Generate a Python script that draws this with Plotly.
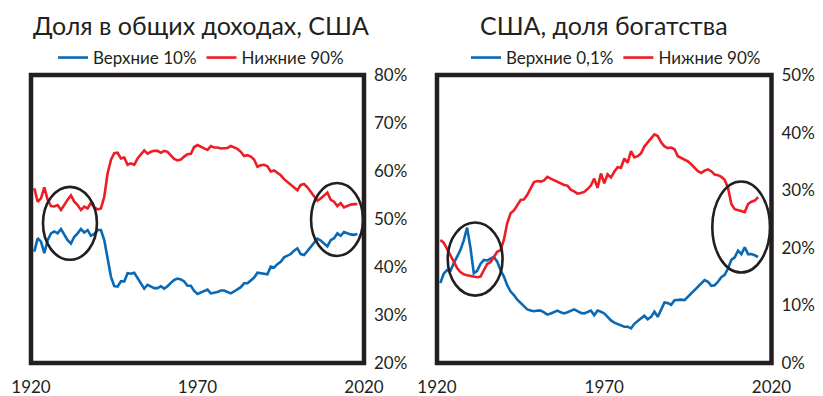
import plotly.graph_objects as go
from plotly.subplots import make_subplots

# ---- Income shares, USA (1921-2018) ----
income_years = list(range(1921, 2019))
income_top10 = [
    43.2, 46.0, 45.3, 42.9, 45.6, 47.0, 47.4, 47.0, 47.9, 46.7,
    45.6, 44.9, 46.3, 47.0, 47.9, 47.2, 47.7, 46.5, 46.9, 47.7,
    47.7, 45.6, 41.5, 38.0, 36.0, 35.9, 37.0, 37.0, 38.7, 38.6,
    38.8, 37.6, 36.4, 35.5, 36.3, 35.9, 35.6, 35.6, 36.0, 35.5,
    36.0, 36.7, 37.3, 37.6, 37.4, 37.0, 36.1, 36.1, 35.0, 34.4,
    34.7, 35.0, 35.3, 34.5, 34.6, 34.8, 35.1, 35.1, 34.8, 34.5,
    34.9, 35.3, 35.8, 36.6, 36.6, 37.2, 37.8, 38.8, 38.7, 38.6,
    38.5, 40.1, 39.9, 40.6, 41.1, 42.0, 42.3, 42.7, 43.4, 43.9,
    42.7, 42.5, 43.3, 44.2, 44.9, 45.9, 45.5, 44.8, 44.3, 45.6,
    46.0, 47.0, 46.5, 47.3, 47.0, 46.8, 46.7, 46.9,
]
income_bottom90 = [
    56.4, 53.6, 54.3, 56.6, 54.0, 52.7, 52.6, 52.9, 51.9, 53.1,
    54.0, 54.9, 53.6, 52.9, 51.9, 52.6, 52.2, 53.4, 52.4, 52.0,
    52.2, 54.6, 59.5, 62.3, 63.7, 63.8, 62.6, 62.8, 61.3, 61.6,
    61.3, 62.6, 63.5, 64.3, 63.6, 64.0, 64.2, 64.2, 63.8, 64.2,
    64.0, 63.2, 62.5, 62.2, 62.4, 63.0, 63.5, 63.6, 65.0, 65.4,
    65.0, 64.7, 64.4, 65.2, 64.9, 64.9, 64.7, 64.7, 64.8, 65.2,
    64.9, 64.6, 64.0, 63.1, 63.3, 63.0, 62.4, 60.9, 61.2, 61.3,
    61.0, 59.9, 60.1, 59.6, 59.1, 58.3, 57.7, 57.2, 56.7, 56.0,
    57.1, 57.3, 56.6, 55.6, 54.8, 53.8, 54.3, 55.0, 55.5, 54.0,
    53.6, 52.7, 53.3, 52.4, 52.7, 53.0, 53.1, 53.1,
]

# ---- Wealth shares, USA (1921-2016) ----
wealth_years = list(range(1921, 2017))
wealth_top01 = [
    13.9, 15.5, 16.1, 16.0, 17.3, 18.4, 19.6, 21.3, 23.5, 20.0,
    15.6, 16.0, 17.2, 17.9, 17.8, 18.1, 18.4, 17.6, 16.1, 15.0,
    13.5, 12.4, 11.8, 11.0, 10.4, 9.9, 9.3, 9.1, 9.0, 9.1,
    9.1, 8.8, 8.4, 8.6, 8.8, 9.1, 8.8, 8.6, 8.8, 9.0,
    9.3, 9.0, 8.7, 8.6, 8.8, 9.1, 8.3, 9.1, 8.9, 8.6,
    8.0, 7.4, 7.0, 6.8, 6.5, 6.3, 6.3, 6.0, 6.8, 7.2,
    7.75, 8.2, 7.6, 8.0, 8.9, 8.0, 9.2, 10.5, 10.4, 10.1,
    10.9, 11.0, 11.0, 10.9, 11.5, 12.1, 12.7, 13.3, 13.9, 14.4,
    14.1, 13.4, 13.5, 14.1, 14.9, 15.3, 16.4, 17.9, 18.35, 19.5,
    18.9, 20.1, 18.9, 18.9, 18.7, 18.4,
]
wealth_bottom90 = [
    21.35, 20.9, 19.8, 18.6, 17.5, 16.5, 15.8, 15.4, 15.25, 15.1,
    15.0, 14.9, 15.0, 16.0, 17.2, 17.5, 18.3, 19.3, 19.6, 21.4,
    24.3, 26.0, 26.5, 27.5, 28.3, 28.4, 29.2, 30.3, 31.4, 31.6,
    31.5, 31.7, 32.3, 32.0, 31.7, 31.4, 31.1, 30.9, 30.8, 30.1,
    29.8, 29.4, 29.5, 29.7, 30.2, 30.8, 32.0, 30.4, 32.9, 31.2,
    32.75, 32.2, 33.2, 34.0, 33.9, 35.5, 34.8, 36.8, 35.7, 35.9,
    36.4, 37.6, 38.3, 39.0, 39.7, 39.4, 38.3, 37.6, 37.3, 37.4,
    37.1, 35.9, 35.6, 35.4, 35.0, 34.5, 33.8, 33.3, 33.0, 33.4,
    33.6, 33.3, 32.7, 32.6, 32.3, 31.8, 30.4, 27.6, 26.7, 26.5,
    26.4, 26.2, 27.6, 28.0, 28.2, 28.8,
]

titles = ["Доля в общих доходах, США", "США, доля богатства"]
income_names = ["Верхние 10%", "Нижние 90%"]
wealth_names = ["Верхние 0,1%", "Нижние 90%"]
x_ticks = [1920, 1970, 2020]
income_y_ticks = [20, 30, 40, 50, 60, 70, 80]
wealth_y_ticks = [0, 10, 20, 30, 40, 50]

# highlighted periods: (x0, x1, y0, y1) in data units
income_marks = [(1923.6, 1939.8, 41.5, 56.7), (2004.1, 2019.7, 42.3, 57.5)]
wealth_marks = [(1923.2, 1939.6, 11.7, 24.4), (2002.3, 2019.55, 15.7, 31.5)]

BLUE = "#0a69b4"
RED = "#ee1d25"
INK = "#231f20"
FONT = "Lato"

W, H = 823, 396

fig = make_subplots(rows=1, cols=2)

fig.add_trace(go.Scatter(x=income_years, y=income_top10, name=income_names[0],
                         mode="lines", line=dict(color=BLUE, width=2.6),
                         legend="legend"), row=1, col=1)
fig.add_trace(go.Scatter(x=income_years, y=income_bottom90, name=income_names[1],
                         mode="lines", line=dict(color=RED, width=2.6),
                         legend="legend"), row=1, col=1)
fig.add_trace(go.Scatter(x=wealth_years, y=wealth_top01, name=wealth_names[0],
                         mode="lines", line=dict(color=BLUE, width=2.6),
                         legend="legend2"), row=1, col=2)
fig.add_trace(go.Scatter(x=wealth_years, y=wealth_bottom90, name=wealth_names[1],
                         mode="lines", line=dict(color=RED, width=2.6),
                         legend="legend2"), row=1, col=2)

def px_x(p):
    return p / W

def px_y(p):
    return 1 - p / H

y_dom = [px_y(363), px_y(75)]
x_dom_left = [px_x(31), px_x(364)]
x_dom_right = [px_x(437), px_x(771.5)]

axis_font = dict(family=FONT, size=17, color=INK)

fig.update_xaxes(range=[1920, 2020], tickvals=x_ticks, ticktext=[str(v) for v in x_ticks],
                 showgrid=False, zeroline=False, showline=False, ticks="",
                 tickfont=axis_font, ticklabelstandoff=12, automargin=False)
fig.update_layout(
    xaxis=dict(domain=x_dom_left),
    xaxis2=dict(domain=x_dom_right),
    yaxis=dict(domain=y_dom, range=[20, 80], tickvals=income_y_ticks,
               ticktext=[f"{v}%" for v in income_y_ticks], side="right"),
    yaxis2=dict(domain=y_dom, range=[0, 50], tickvals=wealth_y_ticks,
                ticktext=[f"{v}%" for v in wealth_y_ticks], side="right"),
)
fig.update_yaxes(showgrid=False, zeroline=False, showline=False, ticks="",
                 tickfont=axis_font, ticklabelstandoff=9, automargin=False)

# thick frame around each panel
for xr, yr in (("x domain", "y domain"), ("x2 domain", "y2 domain")):
    fig.add_shape(type="rect", xref=xr, yref=yr, x0=0, x1=1, y0=0, y1=1,
                  line=dict(color=INK, width=4.5), layer="above")

# ellipses around the highlighted periods
for (x0, x1, y0, y1) in income_marks:
    fig.add_shape(type="circle", xref="x", yref="y", x0=x0, x1=x1, y0=y0, y1=y1,
                  line=dict(color=INK, width=2.6), layer="above")
for (x0, x1, y0, y1) in wealth_marks:
    fig.add_shape(type="circle", xref="x2", yref="y2", x0=x0, x1=x1, y0=y0, y1=y1,
                  line=dict(color=INK, width=2.6), layer="above")

title_y = px_y(25)
fig.add_annotation(text=titles[0], x=px_x(201), y=title_y, xref="paper", yref="paper",
                   showarrow=False, xanchor="center", yanchor="middle",
                   font=dict(family=FONT, size=25, color=INK))
fig.add_annotation(text=titles[1], x=px_x(604), y=title_y, xref="paper", yref="paper",
                   showarrow=False, xanchor="center", yanchor="middle",
                   font=dict(family=FONT, size=25, color=INK))

legend_common = dict(orientation="h", yanchor="middle", xanchor="center",
                     font=dict(family=FONT, size=17, color=INK),
                     bgcolor="rgba(0,0,0,0)", itemwidth=30)
fig.update_layout(
    legend=dict(x=px_x(201), y=px_y(58), **legend_common),
    legend2=dict(x=px_x(616), y=px_y(58), **legend_common),
)

fig.update_layout(
    width=W, height=H,
    margin=dict(l=0, r=0, t=0, b=0),
    paper_bgcolor="white", plot_bgcolor="white",
    showlegend=True,
    font=dict(family=FONT, color=INK),
)

fig.write_html("out.html")
